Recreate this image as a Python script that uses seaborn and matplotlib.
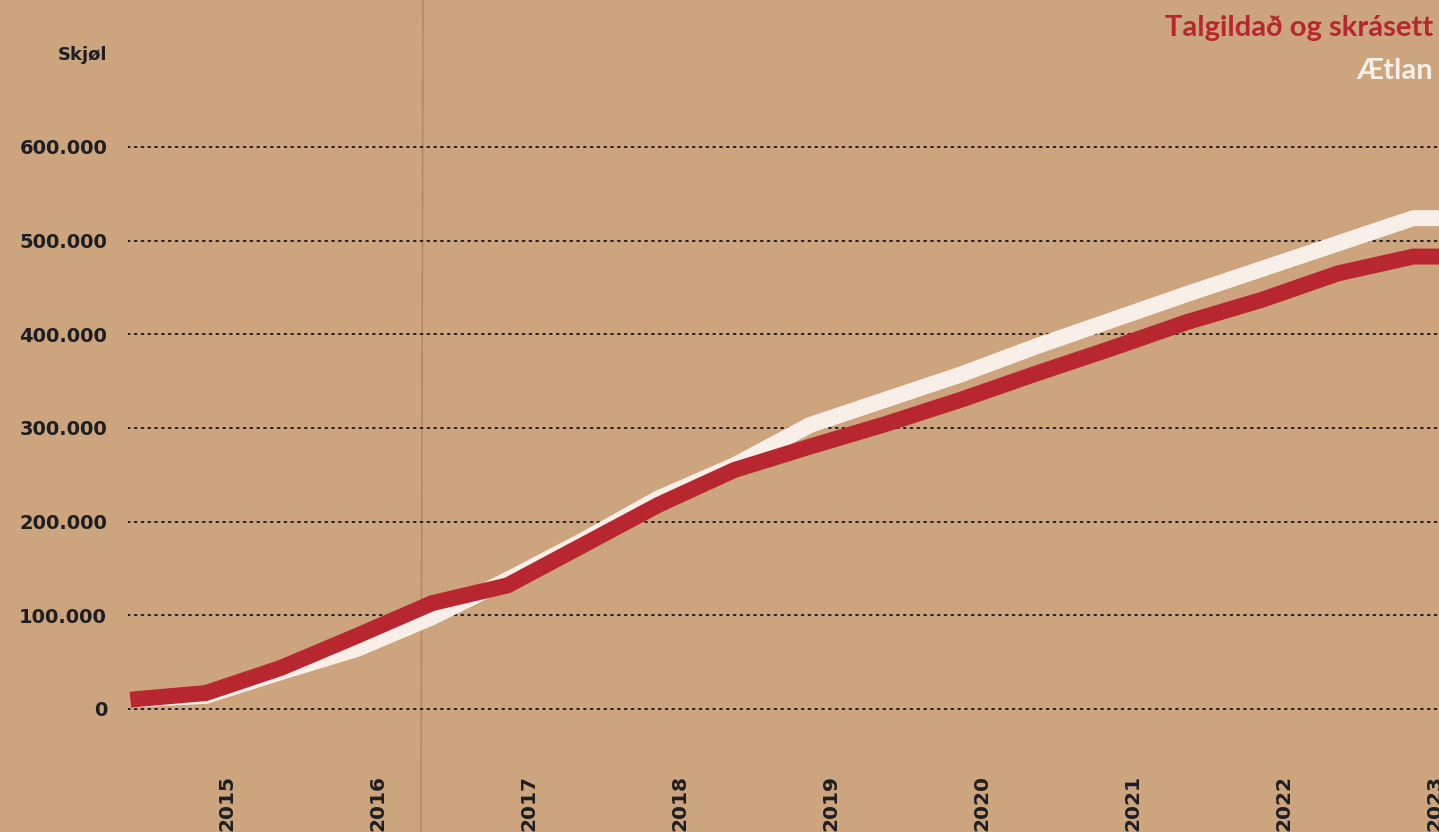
import numpy as np
import pandas as pd
import matplotlib
matplotlib.use("Agg")
import matplotlib.pyplot as plt
import seaborn as sns

# ---- data (half-year steps) ----
periods = list(range(19))
talgildad = [10000, 17000, 44000, 78000, 113000, 132000, 175000, 218000, 255000,
             280000, 304000, 330000, 358000, 385000, 413000, 437000, 465000, 483000, 483000]
aetlan = [10000, 14000, 39500, 64000, 98000, 138000, 180000, 225000, 260000,
          303000, 330000, 357000, 387000, 415000, 443000, 470000, 497000, 524000, 524000]
year_labels = ["2015", "2016", "2017", "2018", "2019", "2020", "2021", "2022", "2023"]
yticks = [0, 100000, 200000, 300000, 400000, 500000, 600000]
series_names = ["Ætlan", "Talgildað og skrásett"]

BG = "#CCA47E"
RED = "#B8272F"
WHITE = "#F8EFE8"
DARK = "#1E1E22"

df = pd.DataFrame({
    "period": periods * 2,
    "value": aetlan + talgildad,
    "series": [series_names[0]] * len(periods) + [series_names[1]] * len(periods),
})

sns.set_style("white")
plt.rcParams["font.family"] = ["DejaVu Sans"]

fig = plt.figure(figsize=(14.39, 8.32), dpi=100)
fig.patch.set_facecolor(BG)
ax = fig.add_axes([128 / 1439, 67 / 832, 1 - 128 / 1439, 1 - 67 / 832])
ax.set_facecolor("none")

# faint paper crease
fig.add_artist(plt.Line2D([421 / 1439, 423 / 1439], [0, 1], transform=fig.transFigure,
                          color="#8A6440", lw=1.2, alpha=0.4, zorder=0))

sns.lineplot(data=df, x="period", y="value", hue="series", hue_order=series_names,
             palette={series_names[0]: WHITE, series_names[1]: RED},
             linewidth=11.5, sort=False, estimator=None, legend=False, ax=ax)
for ln in ax.get_lines():
    ln.set_solid_joinstyle("miter")
    ln.set_solid_capstyle("butt")
    ln.set_zorder(3)

# axis ranges (pixel mapping of the reference)
ax.set_xlim(-0.03, 17.34)
ax.set_ylim(-59800, 756900)

# dotted grid
for v in yticks:
    ax.axhline(v, color=DARK, lw=1.4, linestyle=(0, (0.9, 2.6)), zorder=1,
               dash_capstyle="round")

ax.set_yticks(yticks)
ax.set_yticklabels([f"{v:,}".replace(",", ".") for v in yticks],
                   fontsize=14, fontweight="bold", color=DARK)
ax.tick_params(axis="y", length=0, pad=15)

xt = [1.28 + 2 * i for i in range(len(year_labels))]
ax.set_xticks(xt)
ax.set_xticklabels(year_labels, rotation=90, fontsize=14.5, fontweight="bold",
                   color=DARK, va="top", ha="center")
ax.tick_params(axis="x", length=0, pad=7)

ax.set_xlabel("")
ax.set_ylabel("")
ax.grid(False)
for s in ax.spines.values():
    s.set_visible(False)

fig.text(107 / 1439, 1 - 55 / 832, "Skjøl", ha="right", va="center",
         fontsize=13, fontweight="bold", color=DARK)
fig.text(1433 / 1439, 1 - 28 / 832, "Talgildað og skrásett", ha="right", va="center",
         fontsize=21, fontweight="bold", color=RED, family=["Lato", "DejaVu Sans"])
fig.text(1433 / 1439, 1 - 71 / 832, "Ætlan", ha="right", va="center",
         fontsize=21, fontweight="bold", color=WHITE, family=["Lato", "DejaVu Sans"])

fig.savefig("out.png", dpi=100, facecolor=BG)
